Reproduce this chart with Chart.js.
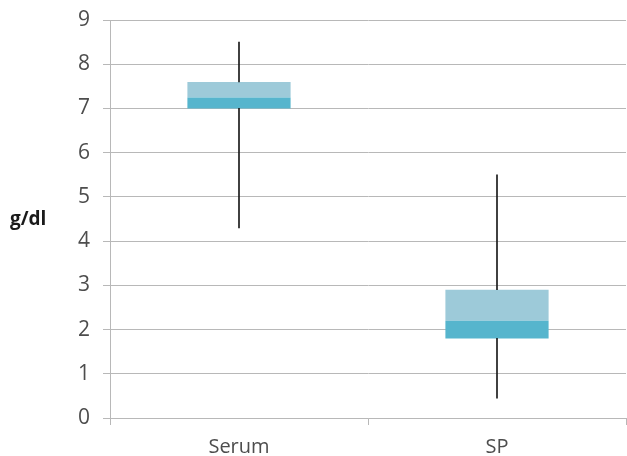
<!DOCTYPE html>
<html>
<head>
<meta charset="utf-8">
<script src="https://cdn.jsdelivr.net/npm/chart.js@4"></script>
<style>
  html, body { margin: 0; padding: 0; background: #fff; }
  #wrap { width: 627px; height: 456px; }
</style>
</head>
<body>
<div id="wrap"><canvas id="chart"></canvas></div>
<script>
// box plot values (g/dl)
const categories = ['Serum', 'SP'];
const minVals    = [4.3, 0.45];
const q1Vals     = [7.0, 1.8];
const medianVals = [7.25, 2.2];
const q3Vals     = [7.6, 2.9];
const maxVals    = [8.5, 5.5];
const yTicks     = [0, 1, 2, 3, 4, 5, 6, 7, 8, 9];

const lowerBox  = categories.map((_, i) => [q1Vals[i], medianVals[i]]);
const upperBox  = categories.map((_, i) => [medianVals[i], q3Vals[i]]);
const lowWhisk  = categories.map((_, i) => [minVals[i], q1Vals[i]]);
const highWhisk = categories.map((_, i) => [q3Vals[i], maxVals[i]]);

const gridGrey = '#b8b8b8';
const textGrey = '#4d4d4d';

// the horizontal "g/dl" label on the left
const unitLabel = {
  id: 'unitLabel',
  afterDraw(chart) {
    const ctx = chart.ctx;
    ctx.save();
    ctx.font = 'bold 19px "Open Sans"';
    ctx.fillStyle = '#1a1a1a';
    ctx.textAlign = 'left';
    ctx.textBaseline = 'middle';
    ctx.fillText('g/dl', 10, 220);
    ctx.restore();
  }
};

const whiskerStyle = { backgroundColor: '#1a1a1a', barThickness: 1, grouped: false };
const boxStyle = { grouped: false, barPercentage: 0.4, categoryPercentage: 1 };

new Chart(document.getElementById('chart'), {
  type: 'bar',
  data: {
    labels: categories,
    datasets: [
      { label: 'Min-Q1', data: lowWhisk, ...whiskerStyle },
      { label: 'Q3-Max', data: highWhisk, ...whiskerStyle },
      { label: 'Q1-Median', data: lowerBox, backgroundColor: '#56b5cd', ...boxStyle },
      { label: 'Median-Q3', data: upperBox, backgroundColor: '#9dcad9', ...boxStyle }
    ]
  },
  options: {
    responsive: true,
    maintainAspectRatio: false,
    animation: false,
    layout: { padding: { top: 20, right: 1, left: 0, bottom: 0 } },
    plugins: { legend: { display: false }, tooltip: { enabled: false } },
    scales: {
      x: {
        offset: true,
        grid: {
          offset: true,
          drawOnChartArea: false,
          drawTicks: true,
          tickLength: 7,
          color: gridGrey
        },
        border: { color: gridGrey },
        ticks: { color: textGrey, font: { family: '"Open Sans"', size: 20 }, padding: 10 },
        afterFit(scale) { scale.height = 38; }
      },
      y: {
        min: 0,
        max: 9,
        afterBuildTicks(scale) { scale.ticks = yTicks.map(v => ({ value: v })); },
        grid: { color: gridGrey, tickLength: 7 },
        border: { color: gridGrey },
        ticks: { color: textGrey, font: { family: '"Open Sans"', size: 21 }, padding: 13 },
        afterFit(scale) {
          scale.width = 110;
          scale.paddingTop = 0;
          scale.paddingBottom = 0;
        }
      }
    }
  },
  plugins: [unitLabel]
});
</script>
</body>
</html>
